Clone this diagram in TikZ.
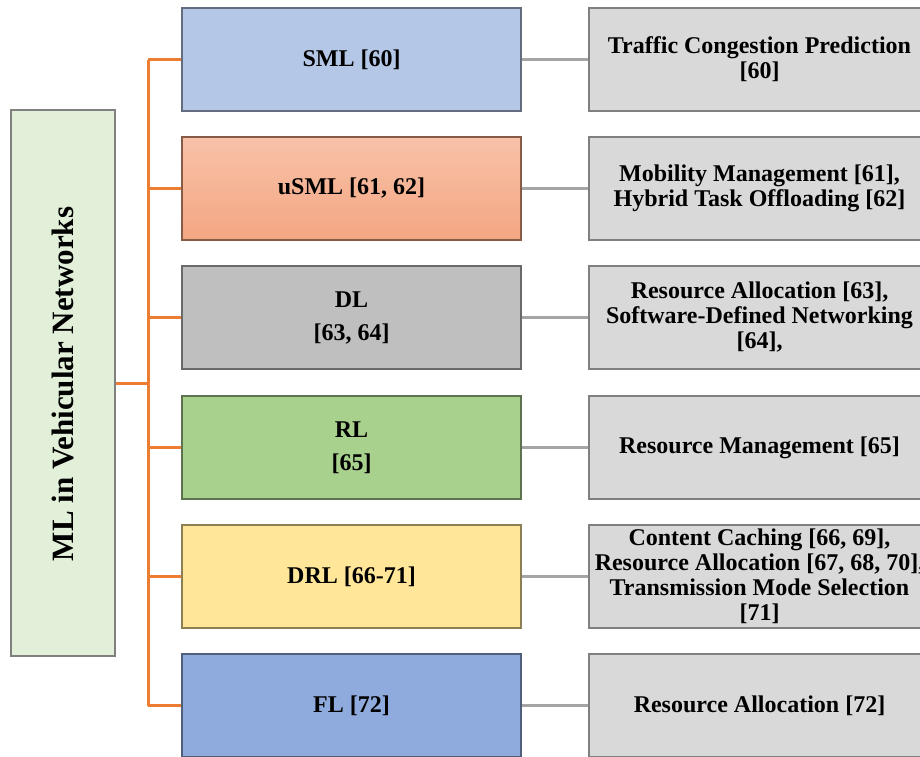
\documentclass[tikz,border=0pt]{standalone}
\usepackage{fontspec}
\setmainfont{Liberation Serif}
\definecolor{lgreen}{HTML}{E2EFD9}
\definecolor{cSML}{HTML}{B4C7E7}
\definecolor{cUtop}{HTML}{F8C2A9}
\definecolor{cUbot}{HTML}{F4A682}
\definecolor{cDL}{HTML}{BFBFBF}
\definecolor{cRL}{HTML}{A9D18E}
\definecolor{cDRL}{HTML}{FFE699}
\definecolor{cFL}{HTML}{8FAADC}
\definecolor{cR}{HTML}{D9D9D9}
\definecolor{corange}{HTML}{ED7D31}
\definecolor{cgrayline}{HTML}{A5A5A5}
\begin{document}
\begin{tikzpicture}[x=1pt,y=-1pt,
  midbox/.style={rectangle,minimum width=339pt,minimum height=103pt,inner sep=0pt,
    draw=#1!55!black,fill=#1,line width=1.2pt,align=center,
    font=\fontsize{24}{25}\selectfont\bfseries},
  rbox/.style={rectangle,minimum width=341pt,minimum height=103pt,inner sep=0pt,
    draw=black!50,fill=cR,line width=1.2pt,align=center,
    font=\fontsize{24}{25}\selectfont\bfseries},
  trunk/.style={draw=corange,line width=3pt},
  link/.style={draw=cgrayline,line width=3pt}]
\useasboundingbox (0,0) rectangle (920,756);
\clip (0,0) rectangle (920,756);
\node[rectangle,minimum width=104pt,minimum height=546pt,inner sep=0pt,
  draw=black!50,fill=lgreen,line width=1.2pt] (L) at (63,383) {};
\node[rotate=90,font=\fontsize{31}{32}\selectfont\bfseries] (Lt) at (63,384) {ML in Vehicular Networks};

\node[midbox=cSML] (m1) at (351.5,59.5) {SML [60]};
\node[midbox=cUbot,top color=cUtop,bottom color=cUbot] (m2) at (351.5,188.5) {uSML [61, 62]};
\node[midbox=cDL] (m3) at (351.5,317.5) {DL\\[8pt][63, 64]};
\node[midbox=cRL] (m4) at (351.5,447.5) {RL\\[8pt][65]};
\node[midbox=cDRL] (m5) at (351.5,576.5) {DRL [66-71]};
\node[midbox=cFL] (m6) at (351.5,705.5) {FL [72]};

\node[rbox] (r1) at (759.5,59.5) {Traffic Congestion Prediction\\{}[60]};
\node[rbox] (r2) at (759.5,188.5) {Mobility Management [61],\\Hybrid Task Offloading [62]};
\node[rbox] (r3) at (759.5,317.5) {Resource Allocation [63],\\Software-Defined Networking\\{}[64],};
\node[rbox] (r4) at (759.5,447.5) {Resource Management [65]};
\node[rbox] (r5) at (759.5,576.5) {Content Caching [66, 69],\\Resource Allocation [67, 68, 70],\\Transmission Mode Selection\\{}[71]};
\node[rbox] (r6) at (759.5,705.5) {Resource Allocation [72]};

\coordinate (jx) at (148,0);
\draw[trunk] (L.east) -- (L.east -| jx);
\draw[trunk] (jx |- m1) -- (jx |- m6);
\foreach \i in {1,...,6}{
  \draw[trunk] (jx |- m\i) -- (m\i.west);
  \draw[link] (m\i.east) -- (r\i.west);
}
\end{tikzpicture}
\end{document}
